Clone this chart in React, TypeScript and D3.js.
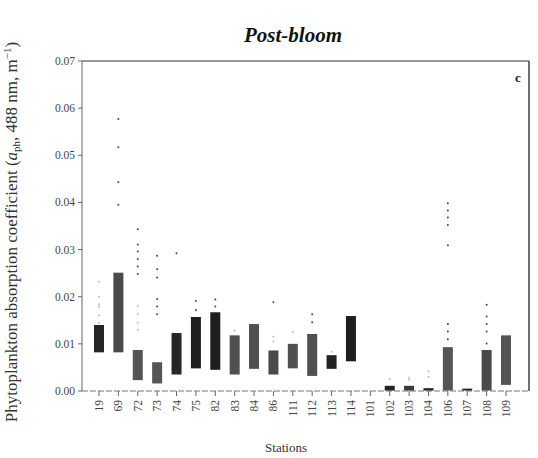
import React from "react";
import * as d3 from "d3";

const stations = ["19","69","72","73","74","75","82","83","84","86","111","112","113","114","101","102","103","104","106","107","108","109"];
const lows: (number | null)[] = [0.0082,0.0082,0.0023,0.0016,0.0035,0.0048,0.0045,0.0035,0.0047,0.0035,0.0048,0.0032,0.0047,0.0063,null,0.0001,0.0001,0.0001,0.0001,0.0001,0.0001,0.0013];
const highs: (number | null)[] = [0.0140,0.0251,0.0087,0.0061,0.0123,0.0157,0.0167,0.0118,0.0142,0.0086,0.0100,0.0121,0.0076,0.0159,null,0.0011,0.0011,0.0006,0.0093,0.0005,0.0087,0.0118];
const barShade = ["#262626","#4a4a4a","#555","#555","#262626","#1e1e1e","#1e1e1e","#505050","#505050","#4a4a4a","#505050","#505050","#222","#1e1e1e","#000","#222","#3a3a3a","#222","#555","#222","#4a4a4a","#555"];

const outStation = ["19","19","19","19","19","19","69","69","69","69","72","72","72","72","72","72","72","72","72","72","73","73","73","73","73","73","74","75","75","82","82","83","86","86","86","111","112","112","113","102","103","103","104","104","106","106","106","106","106","106","106","106","108","108","108","108","108"];
const outValue = [0.0232,0.020,0.0184,0.0179,0.016,0.0144,0.0577,0.0517,0.0443,0.0395,0.0343,0.0311,0.0296,0.0280,0.0264,0.0248,0.018,0.0163,0.0145,0.013,0.0287,0.0258,0.0241,0.0195,0.0179,0.0163,0.0292,0.0191,0.0172,0.0194,0.0179,0.0128,0.0188,0.0115,0.0105,0.0125,0.0146,0.0163,0.0083,0.0025,0.0028,0.0024,0.0042,0.003,0.0398,0.0383,0.0368,0.0352,0.0309,0.0142,0.0126,0.0110,0.0183,0.0158,0.0142,0.0126,0.0101];
const outFaint = [1,1,1,1,1,1,0,0,0,0,0,0,0,0,0,0,1,1,1,1,0,0,0,0,0,0,0,0,0,0,0,1,0,1,1,1,0,0,1,1,1,1,1,1,0,0,0,0,0,0,0,0,0,0,0,0,0];

const yTicks = [0, 0.01, 0.02, 0.03, 0.04, 0.05, 0.06, 0.07];

export default function App() {
  const left = 82, right = 529, top = 61, bottom = 391;
  const x = d3.scalePoint<string>().domain(stations).range([99, 506]);
  const y = d3.scaleLinear().domain([0, 0.07]).range([bottom, top]);
  const bw = 10;
  const serif = "'Liberation Serif', 'DejaVu Serif', serif";
  return (
    <svg width={538} height={458} style={{ position: "absolute", left: 0, top: 0, background: "#fff" }} fontFamily={serif}>
      <text x={293} y={42} textAnchor="middle" fontSize={21} fontWeight="bold" fontStyle="italic" fill="#111">Post-bloom</text>
      <line x1={left} x2={right} y1={top} y2={top} stroke="#333" strokeWidth={1.2} />
      <line x1={right} x2={right} y1={top} y2={bottom} stroke="#333" strokeWidth={1.4} />
      <line x1={left} x2={left} y1={top} y2={bottom} stroke="#666" strokeWidth={1} />
      <line x1={left} x2={right} y1={bottom} y2={bottom} stroke="#777" strokeWidth={1} strokeDasharray="6 2" />
      <text x={518} y={82} fontSize={13} fontWeight="bold" textAnchor="middle" fill="#222">c</text>
      {yTicks.map((t) => (
        <g key={t}>
          <line x1={left - 4} x2={left} y1={y(t)} y2={y(t)} stroke="#666" />
          <text x={left - 7} y={y(t) + 4} textAnchor="end" fontSize={11.5} fill="#444">{t.toFixed(2)}</text>
        </g>
      ))}
      {stations.map((s) => (
        <g key={s}>
          <line x1={x(s)} x2={x(s)} y1={bottom} y2={bottom + 5} stroke="#666" />
          <text transform={`translate(${(x(s) as number) + 4},${bottom + 9}) rotate(-90)`} textAnchor="end" fontSize={11.5} fill="#444">{s}</text>
        </g>
      ))}
      {stations.map((s, i) => {
        const lo = lows[i], hi = highs[i];
        if (lo == null || hi == null) return null;
        return <rect key={"b" + s} x={(x(s) as number) - bw / 2} y={y(hi)} width={bw} height={y(lo) - y(hi)} fill={barShade[i]} />;
      })}
      {outStation.map((s, i) => (
        <circle key={"o" + i} cx={x(s) as number} cy={y(outValue[i])} r={1} fill={outFaint[i] ? "#bbb" : "#444"} />
      ))}
      <text x={286} y={452} textAnchor="middle" fontSize={13} fill="#333">Stations</text>
      <text transform={`translate(17,232) rotate(-90)`} textAnchor="middle" fontSize={17} fill="#333">
        Phytoplankton absorption coefficient (<tspan fontStyle="italic">a</tspan><tspan fontSize={11} dy={3}>ph</tspan><tspan dy={-3}>, 488 nm, m</tspan><tspan fontSize={11} dy={-6}>−1</tspan><tspan dy={6}>)</tspan>
      </text>
    </svg>
  );
}
